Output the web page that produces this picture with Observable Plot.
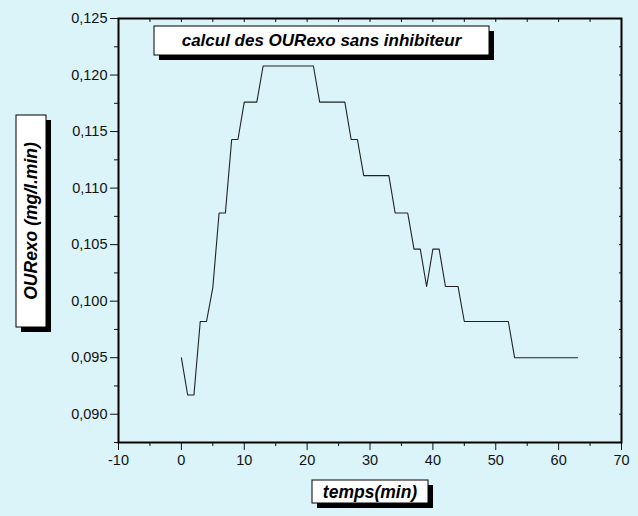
<!DOCTYPE html>
<html>
<head>
<meta charset="utf-8">
<script src="https://cdn.jsdelivr.net/npm/d3@7"></script>
<script src="https://cdn.jsdelivr.net/npm/@observablehq/plot@0.6"></script>
<style>
  html, body { margin: 0; padding: 0; background: #dbf4f9; }
  #chart svg { display: block; }
</style>
</head>
<body>
<div id="chart"></div>
<script>
const title = "calcul des OURexo sans inhibiteur";
const xLabel = "temps(min)";
const yLabel = "OURexo (mg/l.min)";

const minutes = [0,1,2,3,4,5,6,7,8,9,10,11,12,13,14,15,16,17,18,19,20,21,22,23,24,25,26,27,28,29,30,31,32,33,34,35,36,37,38,39,40,41,42,43,44,45,46,47,48,49,50,51,52,53,54,55,56,57,58,59,60,61,62,63];
const ourexo = [0.0950,0.0917,0.0917,0.0982,0.0982,0.1012,0.1078,0.1078,0.1143,0.1143,
  0.1176,0.1176,0.1176,0.1208,0.1208,0.1208,0.1208,0.1208,0.1208,0.1208,
  0.1208,0.1208,0.1176,0.1176,0.1176,0.1176,0.1176,0.1143,0.1143,0.1111,
  0.1111,0.1111,0.1111,0.1111,0.1078,0.1078,0.1078,0.1046,0.1046,0.1013,
  0.1046,0.1046,0.1013,0.1013,0.1013,0.0982,0.0982,0.0982,0.0982,0.0982,
  0.0982,0.0982,0.0982,0.0950,0.0950,0.0950,0.0950,0.0950,0.0950,0.0950,
  0.0950,0.0950,0.0950,0.0950];

const xMajorTicks = [-10,0,10,20,30,40,50,60,70];
const xMinorTicks = [-5,5,15,25,35,45,55,65];
const yMajorTicks = [0.090,0.095,0.100,0.105,0.110,0.115,0.120,0.125];
const yMinorTicks = [0.0875,0.0925,0.0975,0.1025,0.1075,0.1125,0.1175,0.1225];

const data = minutes.map((m, i) => ({m, v: ourexo[i]}));
const fmtY = v => d3.format(".3f")(v).replace(".", ",");
const blank = () => "";

const chart = Plot.plot({
  width: 638,
  height: 516,
  marginLeft: 118,
  marginRight: 17,
  marginTop: 18,
  marginBottom: 74,
  style: {background: "#dbf4f9", fontFamily: "'Liberation Sans', Arial, sans-serif", fontSize: "14.5px", color: "#111"},
  x: {domain: [-10, 70]},
  y: {domain: [0.0875, 0.125]},
  marks: [
    Plot.axisX({ticks: xMajorTicks, tickSize: 8, tickPadding: 4, tickFormat: d => String(d), label: null}),
    Plot.axisX({ticks: xMinorTicks, tickSize: 4, tickFormat: blank, label: null}),
    Plot.axisX({anchor: "top", ticks: [...xMajorTicks, ...xMinorTicks], tickSize: -3, tickFormat: blank, label: null}),
    Plot.axisY({ticks: yMajorTicks, tickSize: 8, tickPadding: 3, tickFormat: fmtY, label: null}),
    Plot.axisY({ticks: yMinorTicks, tickSize: 4, tickFormat: blank, label: null}),
    Plot.axisY({anchor: "right", ticks: [...yMajorTicks, ...yMinorTicks], tickSize: -3, tickFormat: blank, label: null}),
    Plot.line(data, {x: "m", y: "v", stroke: "#222", strokeWidth: 1.1}),
    Plot.frame({stroke: "#000", strokeWidth: 2})
  ]
});

document.getElementById("chart").appendChild(chart);

const svg = d3.select(chart);
function labelBox(x, y, w, h, text, size, rotate) {
  const g = svg.append("g");
  g.append("rect").attr("x", x + 5).attr("y", y + 5).attr("width", w).attr("height", h).attr("fill", "#000");
  g.append("rect").attr("x", x).attr("y", y).attr("width", w).attr("height", h)
    .attr("fill", "#fff").attr("stroke", "#000").attr("stroke-width", 1);
  const cx = x + w / 2, cy = y + h / 2;
  g.append("text")
    .attr("x", cx).attr("y", cy)
    .attr("text-anchor", "middle")
    .attr("dominant-baseline", "central")
    .attr("transform", rotate ? `rotate(-90 ${cx} ${cy})` : null)
    .attr("font-family", "'Liberation Sans', Arial, sans-serif")
    .attr("font-weight", "bold")
    .attr("font-style", "italic")
    .attr("font-size", size)
    .attr("fill", "#000")
    .text(text);
}
labelBox(154, 26, 335, 29, title, 17, false);
labelBox(16, 115, 30, 212, yLabel, 17.5, true);
labelBox(312, 480, 116, 23, xLabel, 17.5, false);
</script>
</body>
</html>
